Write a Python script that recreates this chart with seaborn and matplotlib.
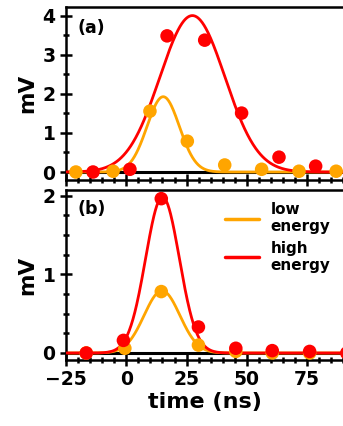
import numpy as np
import pandas as pd
import matplotlib
matplotlib.use("Agg")
import matplotlib.pyplot as plt
from matplotlib.ticker import MultipleLocator
from matplotlib.lines import Line2D
import seaborn as sns

# ---------------- data ----------------
# panel (a) measured points
a_high_t = [-13.8, 1.5, 16.9, 32.5, 47.8, 63.3, 78.5]
a_high_v = [0.0, 0.07, 3.49, 3.38, 1.51, 0.38, 0.15]
a_low_t = [-20.9, -5.5, 9.8, 25.3, 40.8, 56.1, 71.6, 87.0]
a_low_v = [0.0, 0.02, 1.56, 0.79, 0.18, 0.07, 0.02, 0.02]

# panel (b) measured points
b_high_t = [-16.6, -1.2, 14.5, 29.9, 45.4, 60.5, 76.0, 91.4]
b_high_v = [0.0, 0.16, 1.96, 0.33, 0.06, 0.03, 0.02, 0.0]
b_low_t = [-16.6, -0.6, 14.5, 29.9, 45.4, 60.5, 76.0]
b_low_v = [0.0, 0.06, 0.78, 0.10, 0.02, 0.0, 0.0]

# Gaussian fit parameters (amplitude, centre, sigma)
a_high_fit = (4.01, 27.4, 13.5)
a_low_fit = (1.93, 15.3, 6.7)
b_high_fit = (1.98, 15.0, 7.0)
b_low_fit = (0.79, 14.8, 7.4)

legend_labels = ["low\nenergy", "high\nenergy"]
panel_labels = ["(a)", "(b)"]
xticks = [-25, 0, 25, 50, 75]

LOW = "#FFA500"
HIGH = "#FF0000"

sns.set_theme(style="ticks")
plt.rcParams["font.family"] = ["DejaVu Sans"]
plt.rcParams["font.weight"] = "bold"
plt.rcParams["axes.labelweight"] = "bold"
for key in ["text.color", "axes.labelcolor", "xtick.color", "ytick.color",
            "axes.edgecolor", "xtick.labelcolor", "ytick.labelcolor"]:
    plt.rcParams[key] = "black"

W, H = 343, 426
fig = plt.figure(figsize=(W / 100, H / 100), dpi=100)
fig.patch.set_facecolor("white")

left = 66
xr = 344.6
ax1 = fig.add_axes([left / W, 1 - 180 / H, (xr - left) / W, (180 - 7) / H])
ax2 = fig.add_axes([left / W, 1 - 360 / H, (xr - left) / W, (360 - 190) / H])

xmin, xmax = -25, 90.5
tt = np.linspace(xmin, xmax, 600)


def gauss(params):
    a, c, s = params
    return a * np.exp(-((tt - c) ** 2) / (2 * s ** 2))


def draw(ax, low_fit, high_fit, lt, lv, ht, hv):
    ax.axhline(0, color="black", lw=2.2, zorder=1)
    sns.lineplot(x=tt, y=gauss(low_fit), ax=ax, color=LOW, lw=2.0, zorder=2)
    sns.lineplot(x=tt, y=gauss(high_fit), ax=ax, color=HIGH, lw=2.0, zorder=3)
    sns.scatterplot(x=lt, y=lv, ax=ax, color=LOW, s=95, edgecolor="none",
                    zorder=4, clip_on=False)
    sns.scatterplot(x=ht, y=hv, ax=ax, color=HIGH, s=95, edgecolor="none",
                    zorder=5, clip_on=False)


draw(ax1, a_low_fit, a_high_fit, a_low_t, a_low_v, a_high_t, a_high_v)
draw(ax2, b_low_fit, b_high_fit, b_low_t, b_low_v, b_high_t, b_high_v)

ax1.set_ylim(-0.205, 4.23)
ax2.set_ylim(-0.089, 2.07)
for ax in (ax1, ax2):
    ax.set_xlim(xmin, xmax)
    ax.set_xticks(xticks)
    ax.xaxis.set_minor_locator(MultipleLocator(5))
    ax.tick_params(which="major", direction="inout", length=9, width=1.8,
                   labelsize=13.5, pad=3, top=False, right=False, colors="black")
    ax.tick_params(which="minor", direction="inout", length=5, width=1.8,
                   top=False, right=False, colors="black")
    for sp in ax.spines.values():
        sp.set_linewidth(1.8)
        sp.set_color("black")
        sp.set_visible(True)
    ax.spines["right"].set_visible(False)
    ax.set_ylabel("mV", fontsize=15.5, fontweight="bold", labelpad=4, color="black")

ax1.set_yticks([0, 1, 2, 3, 4])
ax1.yaxis.set_minor_locator(MultipleLocator(0.5))
ax1.tick_params(labelbottom=False)
ax1.set_xlabel("")
ax2.set_yticks([0, 1, 2])
ax2.yaxis.set_minor_locator(MultipleLocator(0.25))
ax2.set_xlabel("time (ns)", fontsize=16, fontweight="bold", labelpad=2, color="black")
for lab in ax2.get_xticklabels() + ax2.get_yticklabels() + ax1.get_yticklabels():
    lab.set_fontweight("bold")
    lab.set_color("black")

ax1.text(0.04, 0.88, panel_labels[0], transform=ax1.transAxes, fontsize=12.5,
         fontweight="bold", va="center", ha="left", color="black")
ax2.text(0.04, 0.89, panel_labels[1], transform=ax2.transAxes, fontsize=12.5,
         fontweight="bold", va="center", ha="left", color="black")

handles = [Line2D([], [], color=LOW, lw=2.5), Line2D([], [], color=HIGH, lw=2.5)]
leg = ax2.legend(handles, legend_labels, loc="upper left",
                 bbox_to_anchor=((225 - left) / (xr - left), 1 - (202 - 190) / 170),
                 frameon=False, borderpad=0, borderaxespad=0, handlelength=2.2,
                 handletextpad=0.8, labelspacing=0.4,
                 prop={"size": 11, "weight": "bold"})
for t in leg.get_texts():
    t.set_color("black")

fig.savefig("out.png", dpi=100, facecolor="white")
